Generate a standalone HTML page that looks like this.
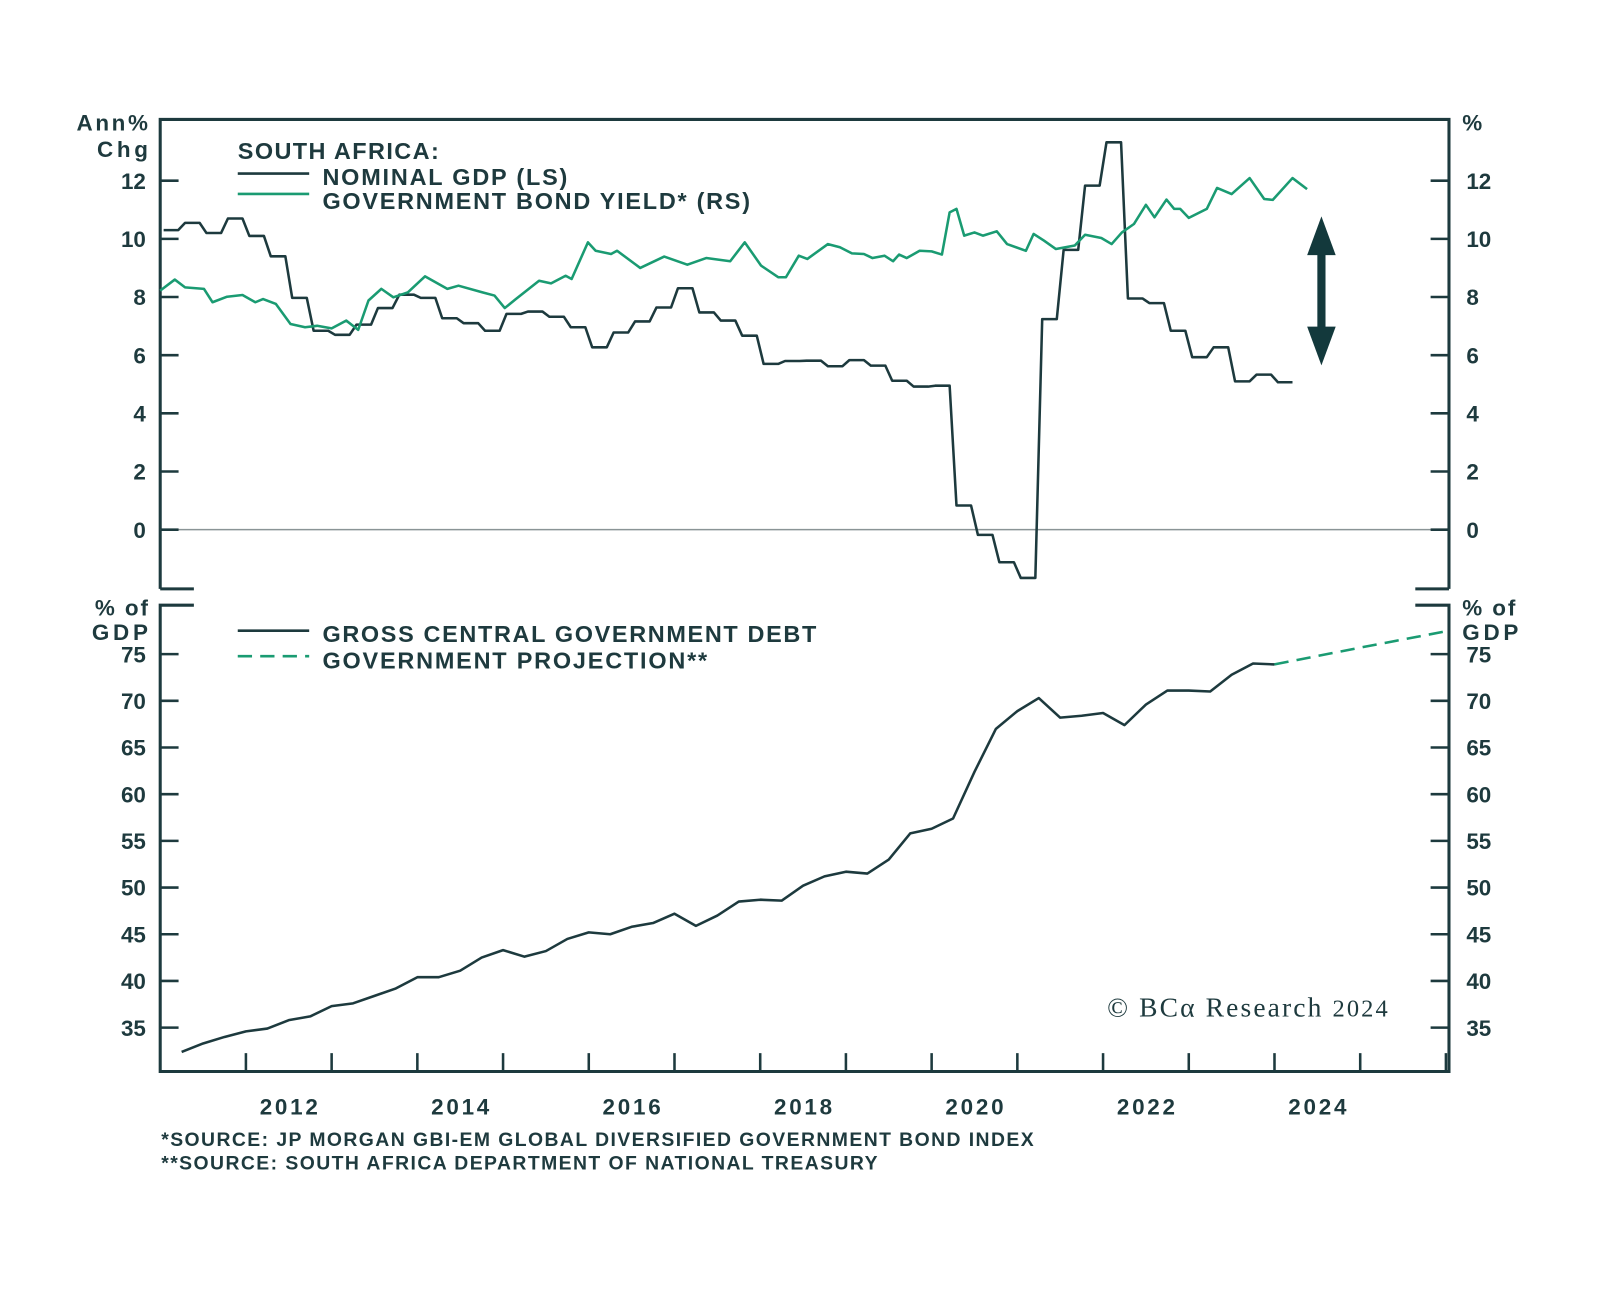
<!DOCTYPE html>
<html><head><meta charset="utf-8">
<style>
html,body{margin:0;padding:0;background:#fff;}
svg{display:block;font-family:"Liberation Sans",sans-serif;}
</style></head>
<body>
<svg id="chart" width="1600" height="1293" viewBox="0 0 1568 1267" xmlns="http://www.w3.org/2000/svg">
<rect width="1568" height="1267" fill="#ffffff"/>
<g id="axes"></g>
<g id="marks"></g>
<g id="labels" fill="#1e3a3e" font-weight="bold"></g>
</svg>
<script>
// ---------- data ----------
const gdpStart = 2011.0; // first quarter start
const gdpValues = [10.3,10.55,10.2,10.7,10.1,9.4,7.97,6.84,6.7,7.05,7.62,8.08,7.97,7.27,7.1,6.84,7.42,7.5,7.32,6.96,6.27,6.78,7.16,7.64,8.3,7.47,7.19,6.67,5.7,5.8,5.81,5.62,5.83,5.64,5.12,4.92,4.95,0.83,-0.18,-1.12,-1.66,7.24,9.62,11.83,13.32,7.95,7.79,6.84,5.93,6.27,5.1,5.33,5.07];
const yieldDates = [2011.0,2011.17,2011.29,2011.51,2011.61,2011.78,2011.96,2012.11,2012.2,2012.35,2012.52,2012.69,2012.83,2013.0,2013.17,2013.31,2013.43,2013.58,2013.72,2013.89,2014.09,2014.35,2014.48,2014.76,2014.9,2015.02,2015.15,2015.42,2015.56,2015.73,2015.8,2015.99,2016.08,2016.26,2016.33,2016.6,2016.88,2017.15,2017.37,2017.65,2017.82,2018.01,2018.21,2018.3,2018.45,2018.55,2018.79,2018.93,2019.07,2019.21,2019.31,2019.45,2019.55,2019.62,2019.71,2019.86,2020.0,2020.12,2020.21,2020.29,2020.38,2020.5,2020.6,2020.76,2020.88,2021.1,2021.19,2021.31,2021.45,2021.67,2021.79,2021.98,2022.1,2022.22,2022.36,2022.5,2022.6,2022.74,2022.83,2022.9,2023.0,2023.21,2023.33,2023.5,2023.71,2023.88,2023.98,2024.21,2024.38];
const yieldValues = [8.22,8.6,8.33,8.28,7.82,8.01,8.07,7.82,7.93,7.76,7.07,6.96,7.01,6.92,7.19,6.87,7.88,8.28,7.99,8.16,8.71,8.28,8.39,8.16,8.05,7.62,7.93,8.56,8.47,8.73,8.62,9.88,9.59,9.48,9.59,9.0,9.39,9.11,9.34,9.23,9.88,9.08,8.68,8.68,9.42,9.31,9.82,9.71,9.5,9.48,9.34,9.42,9.23,9.46,9.34,9.59,9.57,9.46,10.91,11.03,10.11,10.22,10.11,10.26,9.82,9.59,10.17,9.94,9.65,9.77,10.14,10.03,9.82,10.22,10.51,11.17,10.74,11.35,11.03,11.03,10.72,11.03,11.75,11.54,12.09,11.37,11.34,12.09,11.71];
const debtDates = [2011.25,2011.5,2011.75,2012.0,2012.25,2012.5,2012.75,2013.0,2013.25,2013.5,2013.75,2014.0,2014.25,2014.5,2014.75,2015.0,2015.25,2015.5,2015.75,2016.0,2016.25,2016.5,2016.75,2017.0,2017.25,2017.5,2017.75,2018.0,2018.25,2018.5,2018.75,2019.0,2019.25,2019.5,2019.75,2020.0,2020.25,2020.5,2020.75,2021.0,2021.25,2021.5,2021.75,2022.0,2022.25,2022.5,2022.75,2023.0,2023.25,2023.5,2023.75,2024.0];
const debtValues = [32.4,33.3,34.0,34.6,34.9,35.8,36.2,37.3,37.6,38.4,39.2,40.4,40.4,41.1,42.5,43.3,42.6,43.2,44.5,45.2,45.0,45.8,46.2,47.2,45.9,47.0,48.5,48.7,48.6,50.2,51.2,51.7,51.5,53.0,55.8,56.3,57.4,62.4,67.0,68.9,70.3,68.2,68.4,68.7,67.4,69.6,71.1,71.1,71.0,72.8,74.0,73.9];
const projDates = [2024.0,2025.0,2026.03];
const projValues = [73.9,75.7,77.5];
const topTicks = [0,2,4,6,8,10,12];
const botTicks = [35,40,45,50,55,60,65,70,75];
const yearLabels = [2012,2014,2016,2018,2020,2022,2024];

// ---------- scales ----------
const X0=157, X1=1420;
const x = t => X0 + (t-2011)*84;
const yTop = v => 519 - v*28.5;
const yBot = v => 641 - (v-75)*9.15;
const NS="http://www.w3.org/2000/svg";
const axes=document.getElementById('axes'), marks=document.getElementById('marks'), labels=document.getElementById('labels');
function el(tag, attrs, parent){const e=document.createElementNS(NS,tag);for(const k in attrs)e.setAttribute(k,attrs[k]);parent.appendChild(e);return e;}
const DARK="#1d3a3e", GREEN="#1a9b72";

let p=el('path',{d:`M${X0} 577 V117 H${X1} V577 M${X0} 577 H190 M${X1} 577 H1387`,fill:'none',stroke:DARK,'stroke-width':3},axes);

p=el('path',{d:`M190 593 H${X0} V1050 H${X1} V593 H1387`,fill:'none',stroke:DARK,'stroke-width':3},axes);

p=el('line',{x1:X0,x2:X1,y1:yTop(0),y2:yTop(0),stroke:'#8a9496','stroke-width':1.5},axes);


topTicks.forEach(v=>{
  const y=yTop(v);
  let t=el('path',{d:`M${X0} ${y} H${X0+18} M${X1} ${y} H${X1-18}`,stroke:DARK,'stroke-width':2.5},axes);
  
  let a=el('text',{x:143,y:y+8,'text-anchor':'end','font-size':22},labels);a.textContent=v;
  
  let b=el('text',{x:1437,y:y+8,'font-size':22},labels);b.textContent=v;
  
});
botTicks.forEach(v=>{
  const y=yBot(v);
  let t=el('path',{d:`M${X0} ${y} H${X0+18} M${X1} ${y} H${X1-18}`,stroke:DARK,'stroke-width':2.5},axes);
  
  let a=el('text',{x:143,y:y+8,'text-anchor':'end','font-size':22},labels);a.textContent=v;
  
  let b=el('text',{x:1437,y:y+8,'font-size':22},labels);b.textContent=v;
  
});
for(let yr=2012; yr<=2026; yr++){
  let t=el('line',{x1:x(yr),x2:x(yr),y1:1050,y2:1032,stroke:DARK,'stroke-width':2.5},axes);
  
}
yearLabels.forEach(yr=>{
  let a=el('text',{x:x(yr+0.5),y:1092,'text-anchor':'middle','font-size':22,textLength:57},labels);a.textContent=yr;
  
});

let gpts=[];
gdpValues.forEach((v,i)=>{const t=gdpStart+i*0.25;gpts.push([x(t+0.04),yTop(v)],[x(t+0.21),yTop(v)]);});
p=el('polyline',{points:gpts.map(q=>q.join(',')).join(' '),fill:'none',stroke:DARK,'stroke-width':2.5,'stroke-linejoin':'round'},marks);

p=el('polyline',{points:yieldDates.map((t,i)=>x(t)+','+yTop(yieldValues[i])).join(' '),fill:'none',stroke:GREEN,'stroke-width':2.5,'stroke-linejoin':'round'},marks);

p=el('polyline',{points:debtDates.map((t,i)=>x(t)+','+yBot(debtValues[i])).join(' '),fill:'none',stroke:DARK,'stroke-width':2.5,'stroke-linejoin':'round'},marks);

p=el('polyline',{points:projDates.map((t,i)=>x(t)+','+yBot(projValues[i])).join(' '),fill:'none',stroke:GREEN,'stroke-width':2.5,'stroke-dasharray':'14,8'},marks);

</script>
<svg style="position:absolute;left:0;top:0" width="1600" height="1293" viewBox="0 0 1568 1267">
<g fill="#1e3a3e" font-family="Liberation Sans, sans-serif" font-weight="bold">
<text x="145" y="128" text-anchor="end" font-size="22" textLength="70">Ann%</text>
<text x="145" y="154" text-anchor="end" font-size="22" textLength="50">Chg</text>
<text x="1433" y="128" font-size="22">%</text>
<text x="145" y="603" text-anchor="end" font-size="22" textLength="52">% of</text>
<text x="145" y="627" text-anchor="end" font-size="22" textLength="55">GDP</text>
<text x="1433" y="603" font-size="22" textLength="52">% of</text>
<text x="1433" y="627" font-size="22" textLength="55">GDP</text>
<text x="233" y="156" font-size="23" textLength="197">SOUTH AFRICA:</text>
<text x="316" y="181" font-size="23" textLength="240">NOMINAL GDP (LS)</text>
<text x="316" y="205" font-size="23" textLength="419">GOVERNMENT BOND YIELD* (RS)</text>
<text x="316" y="629" font-size="23" textLength="484">GROSS CENTRAL GOVERNMENT DEBT</text>
<text x="316" y="655" font-size="23" textLength="377">GOVERNMENT PROJECTION**</text>
<text x="158" y="1123" font-size="19" textLength="855">*SOURCE: JP MORGAN GBI-EM GLOBAL DIVERSIFIED GOVERNMENT BOND INDEX</text>
<text x="158" y="1146" font-size="19" textLength="702">**SOURCE: SOUTH AFRICA DEPARTMENT OF NATIONAL TREASURY</text>
</g>
<line x1="233" x2="303" y1="170" y2="170" stroke="#1d3a3e" stroke-width="2.5"/>
<line x1="233" x2="303" y1="190" y2="190" stroke="#1a9b72" stroke-width="2.5"/>
<line x1="233" x2="303" y1="618" y2="618" stroke="#1d3a3e" stroke-width="2.5"/>
<line x1="233" x2="303" y1="643" y2="643" stroke="#1a9b72" stroke-width="2.5" stroke-dasharray="14,8"/>
<g fill="#13393c">
<rect x="1291" y="235" width="8" height="100"/>
<polygon points="1295,212 1281,250 1309,250"/>
<polygon points="1295,358 1281,320 1309,320"/>
</g>
<text x="1085" y="996" font-family="Liberation Serif, serif" font-size="27" fill="#1e3a3e" textLength="275">© BCα Research <tspan font-size="24">2024</tspan></text>
</svg>
</body></html>
